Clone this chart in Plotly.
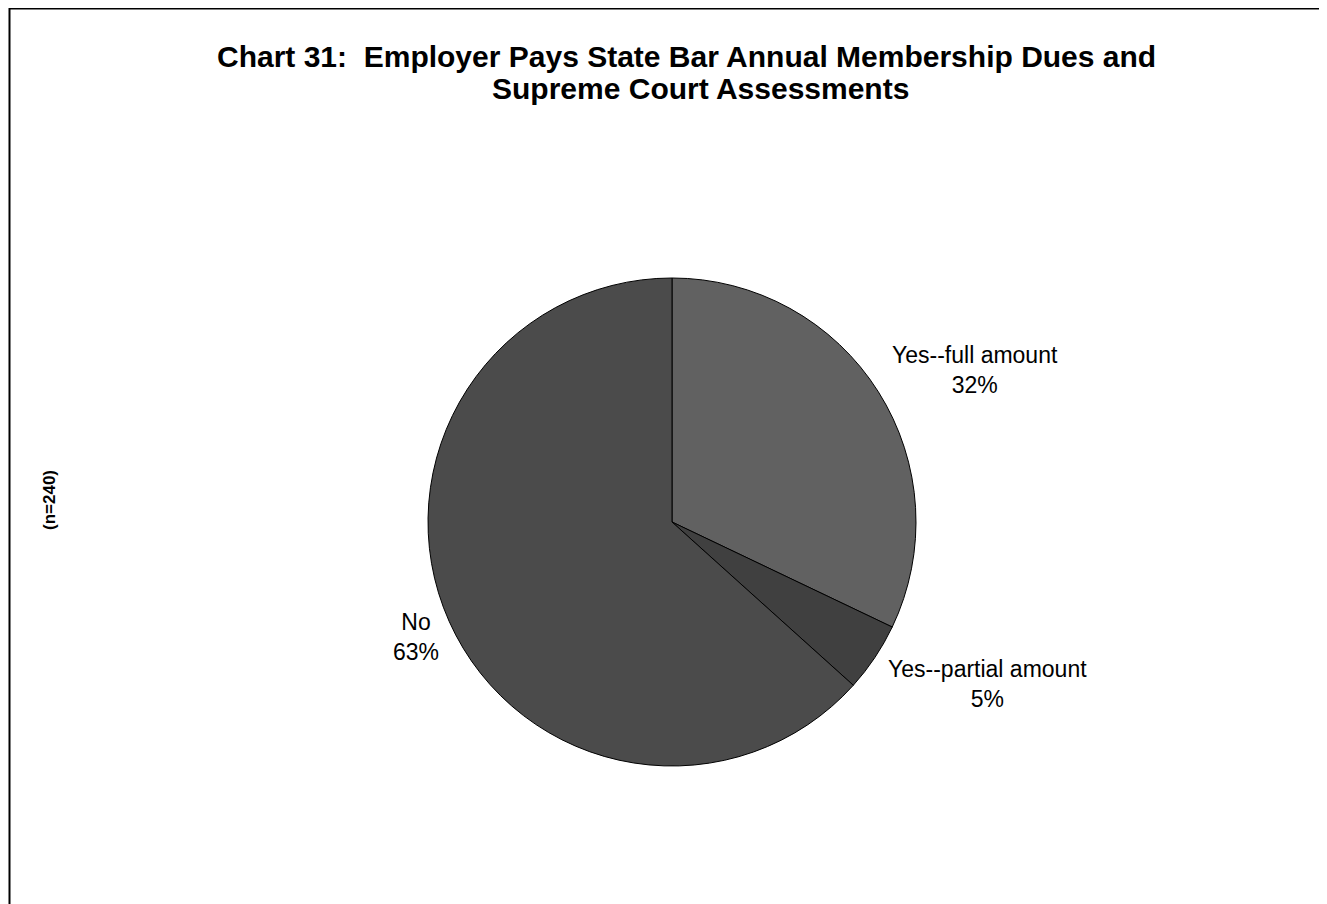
import plotly.graph_objects as go

labels = ["Yes--full amount", "Yes--partial amount", "No"]
counts = [77, 11, 152]
colors = ["#616161", "#404040", "#4b4b4b"]
title_lines = ["Chart 31:  Employer Pays State Bar Annual Membership Dues and",
               "Supreme Court Assessments"]
n_note = "(n=240)"

# page has an 8px body margin; positions below are reference page pixels
OFF = 8
W, H = 1327 - OFF, 904 - OFF
total = sum(counts)
pcts = [round(100 * c / total) for c in counts]


def px(x):
    return (x - OFF) / W


def py(y):
    return 1 - (y - OFF) / H


cx, cy, r = 672, 522, 244
fig = go.Figure(go.Pie(
    labels=labels, values=counts, sort=False, direction="clockwise", rotation=0,
    marker=dict(colors=colors, line=dict(color="black", width=1)),
    textinfo="none", hoverinfo="label+percent", showlegend=False,
    domain=dict(x=[px(cx - r), px(cx + r)], y=[py(cy + r), py(cy - r)]),
))

FONT = "Liberation Sans, Arial"
label_pos = [(975, 370), (987, 684), (416, 637)]
annots = []
for lab, p, (x, y) in zip(labels, pcts, label_pos):
    annots.append(dict(x=px(x), y=py(y), xref="paper", yref="paper",
                       xanchor="center", yanchor="middle",
                       text=f"{lab}<br>{p}%", showarrow=False, align="center",
                       font=dict(family=FONT, size=23, color="black")))
for line, (x, y) in zip(title_lines, [(686, 56), (700, 89)]):
    annots.append(dict(x=px(x), y=py(y), xref="paper", yref="paper",
                       xanchor="center", yanchor="middle",
                       text="<b>" + line + "</b>", showarrow=False,
                       font=dict(family=FONT, size=30, color="black")))
annots.append(dict(x=px(49), y=py(500), xref="paper", yref="paper",
                   xanchor="center", yanchor="middle",
                   text="<b>" + n_note + "</b>", showarrow=False, textangle=-90,
                   font=dict(family=FONT, size=17, color="black")))

fig.update_layout(
    width=W, height=H, margin=dict(l=0, r=0, t=0, b=0),
    paper_bgcolor="white", plot_bgcolor="white",
    annotations=annots,
    shapes=[dict(type="rect", xref="paper", yref="paper",
                 x0=1.5 / W, x1=1.05, y0=-0.05, y1=1 - 0.5 / H,
                 line=dict(color="black", width=2))],
)
fig.write_html("out.html")
